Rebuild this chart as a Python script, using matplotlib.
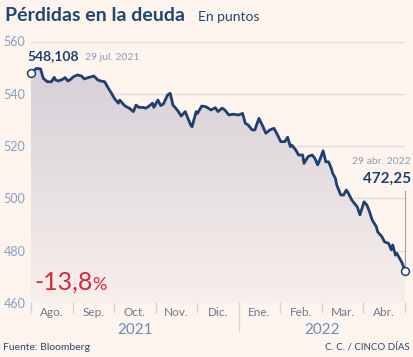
import numpy as np
import matplotlib.pyplot as plt
from matplotlib.colors import LinearSegmentedColormap

plt.rcParams['font.family'] = ['Lato', 'DejaVu Sans']

# dias desde el 29 jul. 2021
dias = [0, 4, 7, 9, 12, 15, 17, 18, 20, 23, 25, 27, 29, 31, 34, 37, 39, 42, 44, 46,
        49, 51, 54, 56, 59, 61, 64, 65, 67, 69, 72, 75, 77, 79, 82, 84, 86, 89, 90, 93,
        95, 97, 100, 102, 104, 106, 108, 110, 113, 115, 117, 118, 121, 122, 125, 128, 132, 135, 137, 140,
        142, 145, 148, 152, 155, 157, 159, 162, 164, 167, 170, 172, 175, 178, 180, 183, 186, 188, 190, 191,
        194, 196, 199, 200, 203, 206, 208, 210, 212, 214, 216, 218, 220, 221, 223, 224, 227, 229, 231, 232,
        235, 236, 239, 241, 244, 246, 248, 250, 253, 254, 256, 257, 259, 262, 264, 265, 267, 268, 270, 272,
        274]
valores = [548.108, 549.7, 549.5, 545.9, 544.6, 544.6, 546.3, 545.3, 544.9, 545.5, 546.2, 544.9, 545.5, 546.5, 547.2, 546.8, 545.7, 546.2, 546.5, 546.8,
           545.3, 544.9, 544.6, 542.7, 540.2, 538.3, 536.4, 537.6, 536.4, 535.3, 534.5, 533.2, 535.7, 534.8, 534.8, 534.5, 535.1, 536.4, 534.8, 537.6,
           535.5, 536.1, 539.5, 540.2, 535.7, 534.5, 533.2, 531.5, 533.2, 530.6, 528.1, 527.4, 533.2, 532.5, 535.3, 535.1, 533.8, 534.7, 533.2, 534.5,
           533.8, 531.9, 532.2, 531.9, 532.5, 528.7, 528.1, 526.2, 526.2, 530.6, 527.4, 524.9, 526.2, 526.8, 524.9, 521.7, 521.7, 523.4, 519.8, 520.4,
           518.5, 516.6, 516.6, 513.4, 516.0, 516.6, 515.3, 512.8, 515.3, 518.2, 514.0, 514.0, 511.5, 509.6, 507.7, 505.1, 501.3, 501.3, 503.2, 502.5,
           499.4, 498.7, 496.8, 493.7, 498.7, 497.5, 494.9, 491.7, 489.2, 487.2, 486.0, 485.4, 483.4, 482.8, 480.3, 482.2, 478.3, 479.0, 477.1, 475.2,
           472.25]
meses = ['Ago.', 'Sep.', 'Oct.', 'Nov.', 'Dic.', 'Ene.', 'Feb.', 'Mar.', 'Abr.']
anios = ['2021', '2022']
y_ticks = [460, 480, 500, 520, 540, 560]

fondo = '#FDF4EE'
azul = '#1F406E'
W, H = 414, 357


def px(x, y):
    return x / W, 1 - y / H


fig = plt.figure(figsize=(W / 100, H / 100), dpi=100, facecolor=fondo)
ax = fig.add_axes([31 / W, 1 - 303 / H, 374 / W, 261.5 / H])
ax.set_facecolor(fondo)
ax.set_xlim(0, dias[-1])
ax.set_ylim(460, 560)
for s in ax.spines.values():
    s.set_visible(False)

for v in y_ticks[1:]:
    ax.axhline(v, color='#E3DCD8', lw=1, zorder=0)
ax.set_yticks(y_ticks)
ax.set_yticklabels([str(v) for v in y_ticks])
ax.tick_params(axis='y', length=0, pad=4, labelsize=9, labelcolor='#86A0BE')
ax.set_xticks([])

# relleno con degradado
grad = np.linspace(1, 0, 256).reshape(-1, 1)
cmap = LinearSegmentedColormap.from_list('g', ['#F7EFEB', '#D6CFD7'])
im = ax.imshow(grad, extent=[0, dias[-1], 460, 552], aspect='auto', cmap=cmap, zorder=1)
poly = ax.fill_between(dias, valores, 460, color='none')
im.set_clip_path(poly.get_paths()[0], transform=ax.transData)

ax.plot(dias, valores, color=azul, lw=2.0, zorder=3, solid_joinstyle='round')
ax.plot([dias[-1], dias[-1]], [valores[-1], 503], color='#A0A0A0', lw=0.8, zorder=2, clip_on=False)
ax.scatter([dias[0], dias[-1]], [valores[0], valores[-1]], s=32, facecolor='white',
           edgecolor=azul, lw=1.1, zorder=4, clip_on=False)

# eje de meses
bordes = np.linspace(0, dias[-1], len(meses) + 1)
tr = ax.get_xaxis_transform()
for i, b in enumerate(bordes):
    bajo = -0.107 if i == 5 else -0.036
    ax.plot([b, b], [0, bajo], color='#D8D1CC', lw=0.9, transform=tr, clip_on=False)
for i, m in enumerate(meses):
    ax.text((bordes[i] + bordes[i + 1]) / 2, -0.038, m, transform=tr, ha='center', va='center',
            fontsize=8.5, color='#6C7A89')
ax.text((bordes[0] + bordes[5]) / 2, -0.103, anios[0], transform=tr, ha='center', va='center',
        fontsize=11, color='#6B8DB5')
ax.text((bordes[5] + bordes[9]) / 2, -0.103, anios[1], transform=tr, ha='center', va='center',
        fontsize=11, color='#6B8DB5')

# textos
fig.text(*px(5, 21), 'Pérdidas en la deuda', fontsize=14, weight='bold', color='#21466F', va='baseline')
fig.text(*px(198, 21), 'En puntos', fontsize=10, color='#21466F', va='baseline')
fig.text(*px(27, 60.5), '548,108', fontsize=10, weight='bold', color=azul, va='baseline')
fig.text(*px(85, 60.5), '29 jul. 2021', fontsize=7.5, color='#8BA0B8', va='baseline')
fig.text(*px(411, 164), '29 abr. 2022', fontsize=7.5, color='#8BA0B8', va='baseline', ha='right')
fig.text(*px(411, 183), '472,25', fontsize=11, weight='bold', color=azul, va='baseline', ha='right')
fig.text(*px(34, 290), '-13,8', fontsize=18, color='#D7263D', va='baseline')
fig.text(*px(92, 290), '%', fontsize=13, color='#D7263D', va='baseline')
fig.text(*px(3, 347), 'Fuente: Bloomberg', fontsize=7.5, color='#2A4A6E', va='center')
fig.text(*px(410, 347), 'C. C. / CINCO DÍAS', fontsize=7, color='#2A4A6E', va='center', ha='right')

fig.savefig('out.png', dpi=100, facecolor=fondo)
